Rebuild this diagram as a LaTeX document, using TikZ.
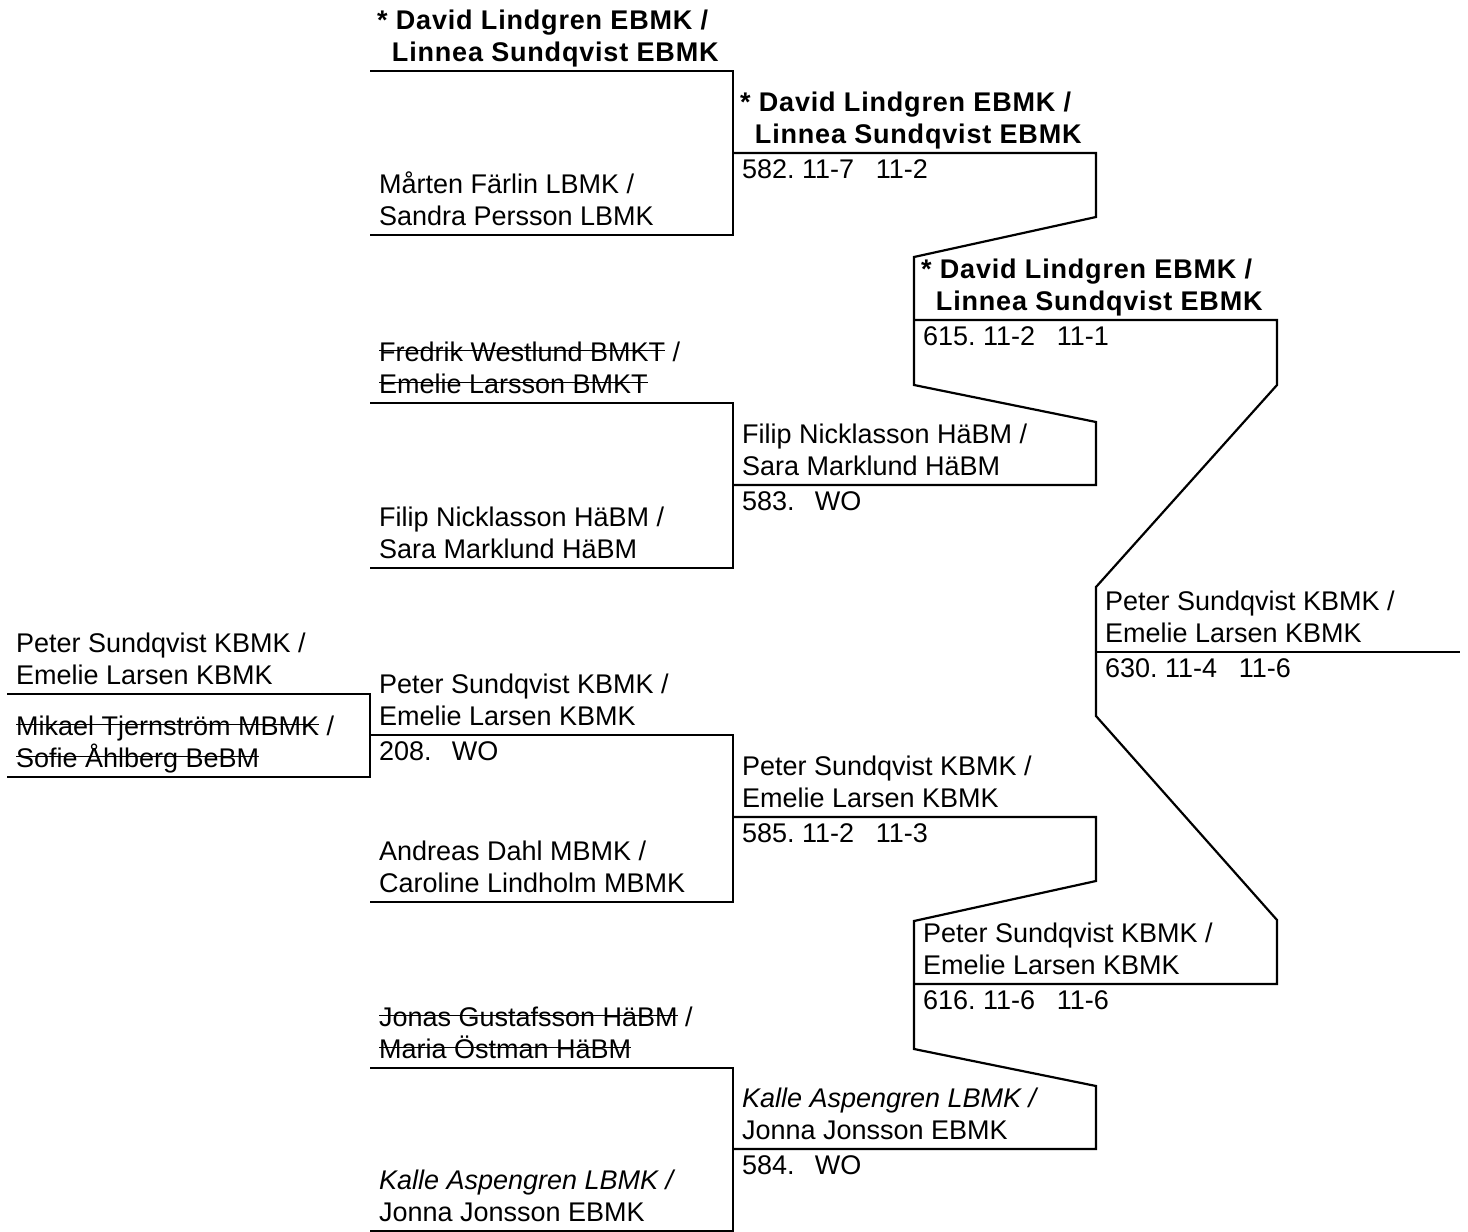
\documentclass[tikz,border=0pt]{standalone}
\usepackage{fontspec}
\setmainfont{Liberation Sans}
\usetikzlibrary{calc}
\newsavebox\strikebox
\newcommand\struck[1]{\sbox\strikebox{#1}\rlap{\rule[0.38em]{\wd\strikebox}{0.75pt}}\usebox\strikebox}

\begin{document}
\begin{tikzpicture}[x=0.5pt,y=-0.5pt,line width=1.1pt,
  team/.style={anchor=south west,inner sep=0pt,align=left,text depth=0pt,
    font=\fontsize{13.5}{16}\selectfont},
  seedteam/.style={team,font=\fontsize{13.5}{16}\selectfont\bfseries\addfontfeature{LetterSpace=3}},
  score/.style={anchor=base west,inner sep=0pt,font=\fontsize{13.5}{16}\selectfont}]
\useasboundingbox (0,0) rectangle (1468,1232);
% left ends of the slot lines
\coordinate (a1) at (7,694);
\coordinate (a2) at (7,777);
\foreach \n/\y in {1/71,2/235,3/403,4/568,5/735,6/902,7/1068,8/1231}
  \coordinate (b\n) at (370,\y);
\foreach \n/\y in {1/153,2/485,3/817,4/1149}
  \coordinate (c\n) at (733,\y);
\coordinate (d1) at (914,320);
\coordinate (d2) at (914,984);
\coordinate (e) at (1096,652);

\draw (a1) -- ++(363,0) |- (a2);
\foreach \i/\j in {1/2,3/4,5/6,7/8}
  \draw (b\i) -- ++(363,0) |- (b\j);
\foreach \i/\j in {1/2,3/4}
  \draw (c\i) -- ++(363,0) -- ++(0,64) -- ++(-182,40) -- ++(0,128)
    -- ++(182,37) -- ++(0,63) -- (c\j);
\draw (d1) -- ++(363,0) -- ++(0,65) -- ++(-181,202) -- ++(0,129)
  -- ++(181,204) -- ++(0,64) -- (d2);
\draw (e) -- ++(364,0) coordinate (winner);

\node[team] (ta1) at ($(a1)+(8,-8.5)$) {Peter Sundqvist KBMK /\\Emelie Larsen KBMK};
\node[team] (ta2) at ($(a2)+(8,-8.5)$) {\struck{Mikael Tjernström MBMK} /\\\struck{Sofie Åhlberg BeBM}};

\node[seedteam] (tb1) at ($(b1)+(6,-8.5)$) {* David Lindgren EBMK /\\\hspace*{0.55em}Linnea Sundqvist EBMK};
\node[team] (tb2) at ($(b2)+(8,-8.5)$) {Mårten Färlin LBMK /\\Sandra Persson LBMK};
\node[team] (tb3) at ($(b3)+(8,-8.5)$) {\struck{Fredrik Westlund BMKT} /\\\struck{Emelie Larsson BMKT}};
\node[team] (tb4) at ($(b4)+(8,-8.5)$) {Filip Nicklasson HäBM /\\Sara Marklund HäBM};
\node[team] (tb5) at ($(b5)+(8,-8.5)$) {Peter Sundqvist KBMK /\\Emelie Larsen KBMK};
\node[team] (tb6) at ($(b6)+(8,-8.5)$) {Andreas Dahl MBMK /\\Caroline Lindholm MBMK};
\node[team] (tb7) at ($(b7)+(8,-8.5)$) {\struck{Jonas Gustafsson HäBM} /\\\struck{Maria Östman HäBM}};
\node[team] (tb8) at ($(b8)+(8,-8.5)$) {\textit{Kalle Aspengren LBMK /}\\Jonna Jonsson EBMK};
\node[score] (sb5) at ($(b5)+(8,25)$) {208.\hspace{0.75em}WO};

\node[seedteam] (tc1) at ($(c1)+(6,-8.5)$) {* David Lindgren EBMK /\\\hspace*{0.55em}Linnea Sundqvist EBMK};
\node[team] (tc2) at ($(c2)+(8,-8.5)$) {Filip Nicklasson HäBM /\\Sara Marklund HäBM};
\node[team] (tc3) at ($(c3)+(8,-8.5)$) {Peter Sundqvist KBMK /\\Emelie Larsen KBMK};
\node[team] (tc4) at ($(c4)+(8,-8.5)$) {\textit{Kalle Aspengren LBMK /}\\Jonna Jonsson EBMK};
\node[score] (sc1) at ($(c1)+(8,25)$) {582.\ 11-7\hspace{0.8em}11-2};
\node[score] (sc2) at ($(c2)+(8,25)$) {583.\hspace{0.75em}WO};
\node[score] (sc3) at ($(c3)+(8,25)$) {585.\ 11-2\hspace{0.8em}11-3};
\node[score] (sc4) at ($(c4)+(8,25)$) {584.\hspace{0.75em}WO};

\node[seedteam] (td1) at ($(d1)+(6,-8.5)$) {* David Lindgren EBMK /\\\hspace*{0.55em}Linnea Sundqvist EBMK};
\node[team] (td2) at ($(d2)+(8,-8.5)$) {Peter Sundqvist KBMK /\\Emelie Larsen KBMK};
\node[score] (sd1) at ($(d1)+(8,25)$) {615.\ 11-2\hspace{0.8em}11-1};
\node[score] (sd2) at ($(d2)+(8,25)$) {616.\ 11-6\hspace{0.8em}11-6};

\node[team] (te) at ($(e)+(8,-8.5)$) {Peter Sundqvist KBMK /\\Emelie Larsen KBMK};
\node[score] (se) at ($(e)+(8,25)$) {630.\ 11-4\hspace{0.8em}11-6};
\end{tikzpicture}
\end{document}
